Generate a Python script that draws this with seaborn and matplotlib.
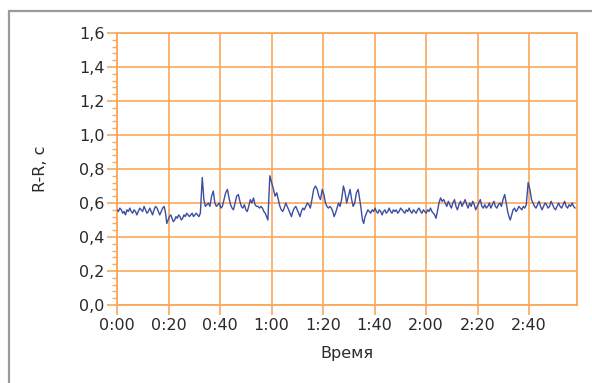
import numpy as np
import pandas as pd
import matplotlib
matplotlib.use("Agg")
import matplotlib.pyplot as plt
import seaborn as sns
from matplotlib.ticker import MultipleLocator
from matplotlib.lines import Line2D

# R-R intervals (s), beat by beat
rr_part1 = [0.56, 0.55, 0.57, 0.56, 0.54, 0.55, 0.53, 0.56, 0.55, 0.57, 0.55, 0.54,
            0.56, 0.55, 0.53, 0.55, 0.57, 0.56, 0.55, 0.58, 0.56, 0.54, 0.55, 0.57,
            0.55, 0.53, 0.56, 0.58, 0.57, 0.55, 0.53, 0.55, 0.57, 0.58, 0.54, 0.48,
            0.50, 0.52, 0.53, 0.51, 0.49, 0.50, 0.52, 0.51, 0.53, 0.52, 0.50, 0.51,
            0.53, 0.52, 0.54, 0.53, 0.52, 0.53, 0.54, 0.52, 0.53, 0.54, 0.53, 0.52, 0.54,
            0.75, 0.62, 0.58, 0.59, 0.60, 0.58, 0.64, 0.67, 0.60, 0.58, 0.59, 0.60,
            0.57, 0.58, 0.62, 0.66, 0.68, 0.63, 0.59, 0.57, 0.56, 0.60, 0.64, 0.65,
            0.61, 0.58, 0.57, 0.59, 0.56, 0.55, 0.58, 0.62, 0.60, 0.63, 0.59, 0.58,
            0.58, 0.57, 0.58, 0.57, 0.55, 0.54, 0.52, 0.50]
rr_part2 = [0.76, 0.72, 0.68, 0.64, 0.66,
            0.62, 0.58, 0.56, 0.55, 0.57, 0.60, 0.58, 0.56, 0.54, 0.52, 0.55, 0.57,
            0.58, 0.56, 0.54, 0.52, 0.55, 0.57, 0.56,
            0.58, 0.60, 0.59, 0.57, 0.62, 0.68, 0.70, 0.68, 0.64, 0.62, 0.68, 0.65,
            0.60, 0.58, 0.57,
            0.58, 0.57, 0.55, 0.52, 0.54, 0.57, 0.60, 0.58,
            0.62, 0.70, 0.66, 0.60, 0.64, 0.68, 0.62, 0.58, 0.60, 0.66, 0.68, 0.62,
            0.56, 0.50, 0.48, 0.52,
            0.54, 0.56, 0.55, 0.54, 0.56, 0.55, 0.57, 0.55, 0.54, 0.56, 0.55, 0.53,
            0.55, 0.56, 0.54, 0.55, 0.57, 0.55, 0.54, 0.56, 0.55, 0.56, 0.54, 0.55,
            0.57, 0.56, 0.55, 0.54, 0.56, 0.55, 0.57, 0.55, 0.54, 0.56, 0.55, 0.54,
            0.56, 0.57, 0.55, 0.54, 0.56, 0.55, 0.54, 0.56, 0.55, 0.57, 0.55, 0.54, 0.53]
rr_part3 = [0.51, 0.55, 0.60, 0.63, 0.61,
            0.62, 0.60, 0.58, 0.61, 0.59, 0.57, 0.60, 0.62, 0.58, 0.56, 0.59, 0.61,
            0.58, 0.60, 0.62, 0.59, 0.57, 0.60, 0.58, 0.61, 0.59, 0.56, 0.58, 0.60,
            0.62, 0.58, 0.57, 0.59, 0.57, 0.58, 0.60, 0.57, 0.59, 0.61, 0.58, 0.57,
            0.59, 0.60, 0.58, 0.62, 0.65, 0.60,
            0.55, 0.52, 0.50, 0.53, 0.56, 0.57, 0.55, 0.56, 0.58, 0.57, 0.56, 0.58,
            0.57, 0.59,
            0.72, 0.68, 0.62,
            0.60, 0.58, 0.57, 0.59, 0.61, 0.58, 0.56, 0.58, 0.60, 0.59, 0.57, 0.58,
            0.61, 0.59, 0.57, 0.56, 0.58, 0.60, 0.58, 0.57, 0.59, 0.61, 0.58, 0.57,
            0.59, 0.58, 0.60, 0.58, 0.57]

x_ticks = [0, 20, 40, 60, 80, 100, 120, 140, 160]
x_labels = ["0:00", "0:20", "0:40", "1:00", "1:20", "1:40", "2:00", "2:20", "2:40"]
y_ticks = [0.0, 0.2, 0.4, 0.6, 0.8, 1.0, 1.2, 1.4, 1.6]
y_labels = ["0,0", "0,2", "0,4", "0,6", "0,8", "1,0", "1,2", "1,4", "1,6"]

rr = np.array(rr_part1 + rr_part2 + rr_part3)
t = np.cumsum(rr) - rr[0]
df = pd.DataFrame({"t": t, "rr": rr})

orange = "#f8a85c"
txt = "#2a2a2a"

sns.set_style("white")
plt.rcParams["font.family"] = ["DejaVu Sans"]

fig = plt.figure(figsize=(5.92, 3.83), dpi=100)
ax = fig.add_axes([117 / 592, 1 - 305 / 383, 460 / 592, 272 / 383])

sns.lineplot(data=df, x="t", y="rr", ax=ax, color="#3b4ea3", linewidth=1.0,
             estimator=None, zorder=3)

ax.set_xlim(0, 178.6)
ax.set_ylim(0, 1.6)
ax.set_xticks(x_ticks)
ax.set_xticklabels(x_labels)
ax.set_yticks(y_ticks)
ax.set_yticklabels(y_labels)
ax.yaxis.set_minor_locator(MultipleLocator(0.04))

ax.grid(True, which="major", color=orange, linewidth=1.2, zorder=0)
for s in ax.spines.values():
    s.set_color(orange)
    s.set_linewidth(1.3)

ax.tick_params(axis="both", which="major", direction="out", length=7, width=1.2,
               color=orange, labelcolor=txt, labelsize=11.5, pad=2,
               bottom=True, left=True)
ax.tick_params(axis="y", which="minor", direction="out", length=3.5, width=1,
               color=orange, left=True)

ax.set_xlabel("Время", fontsize=11.5, color=txt, labelpad=10)
ax.set_ylabel("R-R, c", fontsize=11.5, color=txt, labelpad=22)

# grey outer frame (top and left edges visible)
fig.add_artist(Line2D([9 / 592, 1.0], [1 - 11 / 383, 1 - 11 / 383],
                      color="#9a9a9a", linewidth=1.6, transform=fig.transFigure))
fig.add_artist(Line2D([9 / 592, 9 / 592], [0.0, 1 - 11 / 383],
                      color="#9a9a9a", linewidth=1.6, transform=fig.transFigure))

fig.savefig("out.png", dpi=100)
